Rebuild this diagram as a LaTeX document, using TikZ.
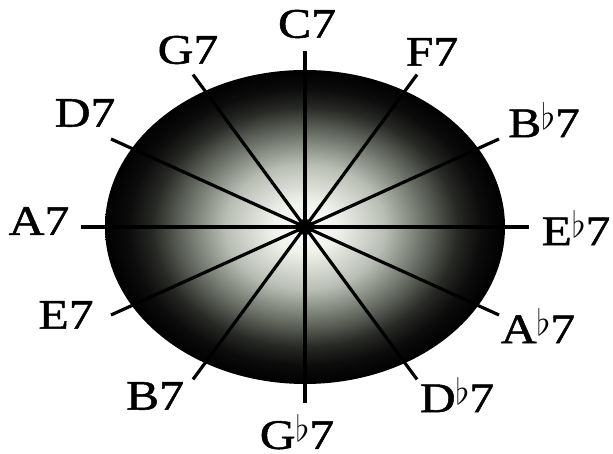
\documentclass[tikz,border=0pt]{standalone}
\usepackage{fontspec}
\setmainfont[FakeStretch=1.18,FakeBold=1.2]{Liberation Serif}
\usepackage{graphicx}
\usetikzlibrary{calc}
\definecolor{s1}{RGB}{240,242,236}
\definecolor{s2}{RGB}{185,190,180}
\definecolor{s3}{RGB}{105,110,100}
\definecolor{s4}{RGB}{40,42,38}
\definecolor{s5}{RGB}{12,12,12}
\pgfdeclareradialshading{discshade}{\pgfpoint{0bp}{0bp}}{color(0bp)=(white); color(4bp)=(s1); color(10bp)=(s2); color(15bp)=(s3); color(19bp)=(s4); color(22bp)=(s5); color(25bp)=(black); color(50bp)=(black)}
\newcommand{\fl}{\raisebox{0.17em}{\scalebox{1.45}{$\flat$}}}
\begin{document}
\begin{tikzpicture}[x=1pt,y=1pt,
  spoke/.style={line width=3.2pt, black},
  lab/.style={font=\fontsize{42}{44}\selectfont, inner sep=0pt, anchor=center}]
\useasboundingbox (0,0) rectangle (613,454);
\shade[shading=discshade] (305,227) ellipse [x radius=200, y radius=157];
\node[circle, fill=black, minimum size=16pt, inner sep=0pt] (c) at (305,227) {};
\foreach \a in {0,30,...,330}{
  \coordinate (e\a) at ($(c.center)+(\a:224 and 176)$);
  \draw[spoke] (c.center) -- (e\a);
}
\node[lab] (lC)  at (307,430) {C7};
\node[lab] (lG)  at (188,404) {G7};
\node[lab] (lF)  at (432,402) {F7};
\node[lab] (lD)  at (85,341)  {D7};
\node[lab] (lBb) at (544,334) {B\fl 7};
\node[lab] (lA)  at (39,233)  {A7};
\node[lab] (lEb) at (576,226) {E\fl 7};
\node[lab] (lE)  at (66,139)  {E7};
\node[lab] (lAb) at (538,128) {A\fl 7};
\node[lab] (lB)  at (155,58)  {B7};
\node[lab] (lDb) at (457,59)  {D\fl 7};
\node[lab] (lGb) at (297,22)  {G\fl 7};
\end{tikzpicture}
\end{document}
